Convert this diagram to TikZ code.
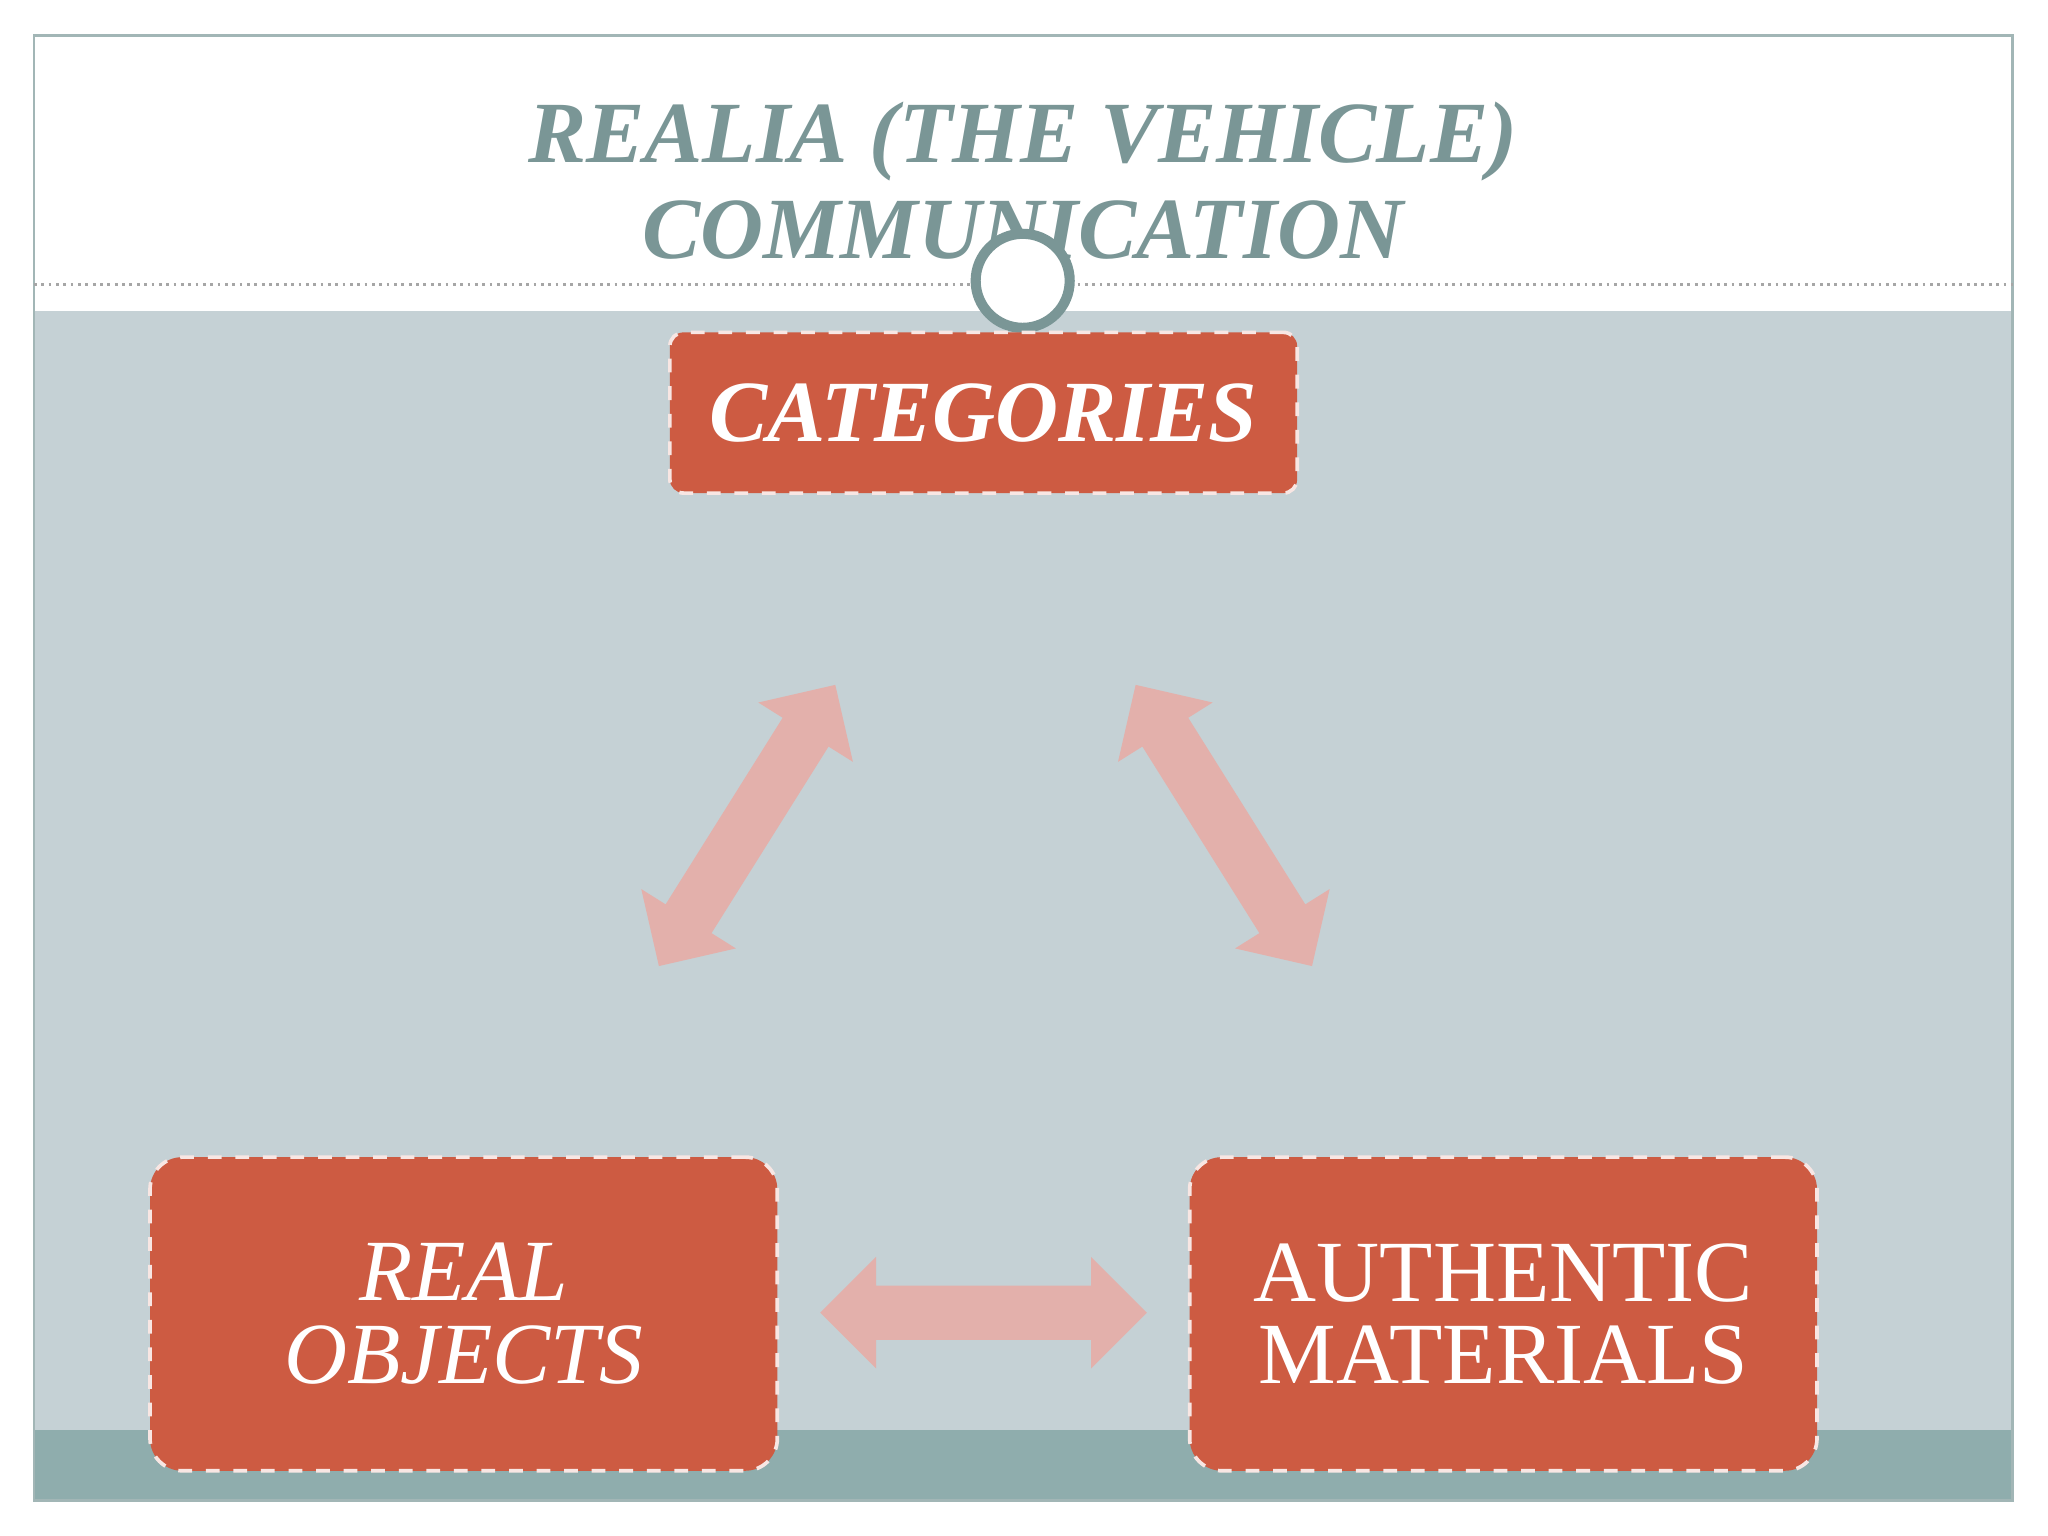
\documentclass[tikz,border=0pt]{standalone}
\usepackage{fontspec}
\setmainfont{Liberation Serif}
\usetikzlibrary{shapes.arrows}
\definecolor{titlec}{HTML}{7A9696}
\definecolor{panel}{HTML}{C5D1D5}
\definecolor{band}{HTML}{8FADAD}
\definecolor{boxc}{HTML}{CD5B42}
\definecolor{arr}{HTML}{E3B0AB}
\tikzset{
 box/.style={fill=boxc,draw=white!85!boxc,dashed,line width=0.8pt,text=white,align=center,inner sep=0pt},
 darr/.style={double arrow,fill=arr,draw=none,inner xsep=0pt,inner ysep=5.7pt,minimum width=0.85cm,double arrow head extend=0.22cm}
}
\begin{document}
\begin{tikzpicture}[x=0.01cm,y=-0.01cm]
\useasboundingbox (0,0) rectangle (1568,1176);
\fill[white] (0,0) rectangle (1568,1176);
\fill[panel] (26,238) rectangle (1541,1095);
\fill[band] (26,1095) rectangle (1541,1149);
\draw[titlec!70,line width=0.6pt] (26,27) rectangle (1541,1149);
\draw[gray!70,densely dotted,line width=0.6pt] (26,218) -- (1541,218);
\node[font=\fontsize{19}{19}\selectfont\bfseries\itshape,text=titlec] (t1) at (783,108) {REALIA (THE VEHICLE)};
\node[font=\fontsize{19}{19}\selectfont\bfseries\itshape,text=titlec] (t2) at (783,176) {COMMUNICATION};
\draw[titlec,line width=2.2pt,fill=white] (783,215) circle (36);
\node[box,rounded corners=3pt,minimum width=4.8cm,minimum height=1.23cm,font=\fontsize{19}{19}\selectfont\bfseries\itshape] (cat) at (753,316) {CATEGORIES};
\node[box,rounded corners=7pt,minimum width=4.8cm,minimum height=2.4cm,font=\fontsize{19}{18}\selectfont\itshape] (real) at (355,1006) {REAL\\OBJECTS};
\node[box,rounded corners=7pt,minimum width=4.8cm,minimum height=2.4cm,font=\fontsize{19}{18}\selectfont] (auth) at (1151,1006) {AUTHENTIC\\MATERIALS};
\node[darr,minimum height=2.54cm,rotate=57.9] (a1) at (572,632) {};
\node[darr,minimum height=2.54cm,rotate=-57.9] (a2) at (937,632) {};
\node[darr,minimum height=2.5cm] (a3) at (753,1005) {};
\end{tikzpicture}
\end{document}
